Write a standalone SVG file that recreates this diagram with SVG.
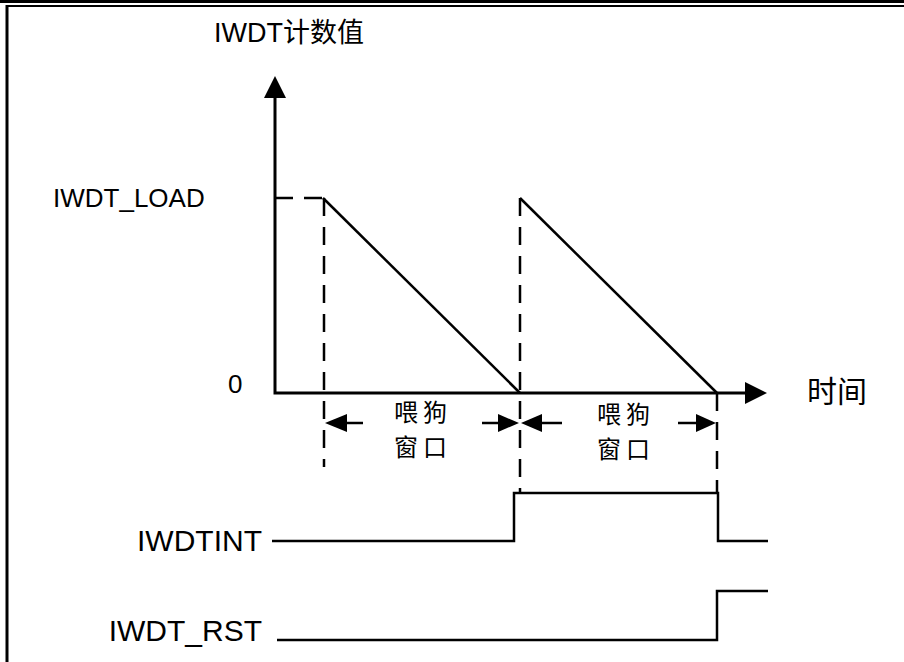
<svg xmlns="http://www.w3.org/2000/svg" width="904" height="662" viewBox="0 0 904 662">
<defs>
<style>
.ln{stroke:#000;stroke-width:2.5;fill:none}
.ax{stroke:#000;stroke-width:3;fill:none}
.ds{stroke:#000;stroke-width:2.5;fill:none;stroke-dasharray:18 11}
.t{font-family:"Liberation Sans","Noto Sans CJK SC",sans-serif;font-size:26px;fill:#000}
.b{font-family:"Liberation Sans","Noto Sans CJK SC",sans-serif;font-size:30px;fill:#000}
.c{font-family:"Liberation Sans","Noto Sans CJK SC",sans-serif;font-size:24px;fill:#000}
.ah{fill:#000}
</style>
</defs>
<rect width="904" height="662" fill="#fff"/>
<g id="frame">
<line x1="0" y1="1.5" x2="904" y2="1.5" stroke="#000" stroke-width="3"/>
<line x1="6" y1="6" x2="904" y2="6" stroke="#000" stroke-width="2"/>
<line x1="7" y1="5" x2="7" y2="662" stroke="#000" stroke-width="3"/>
</g>
<g id="labels">
<text class="t" x="214" y="42" font-size="27" style="font-size:27px">IWDT计数值</text>
<text class="t" x="53" y="207">IWDT_LOAD</text>
<text class="t" x="228" y="393">0</text>
<text class="b" x="807" y="402">时间</text>
<text class="b" x="262" y="551" text-anchor="end">IWDTINT</text>
<text class="b" x="262" y="641" text-anchor="end">IWDT_RST</text>
</g>
<g id="window1">
<text class="c" x="423" y="421" text-anchor="middle" letter-spacing="5">喂狗</text>
<text class="c" x="423" y="456" text-anchor="middle" letter-spacing="5">窗口</text>
</g>
<g id="window2">
<text class="c" x="626" y="423" text-anchor="middle" letter-spacing="5">喂狗</text>
<text class="c" x="626" y="458" text-anchor="middle" letter-spacing="5">窗口</text>
</g>
<g id="connectors">
<polyline class="ax" points="275,97 275,393 745,393"/>
<polygon class="ah" points="275,76 264,98 286,98"/>
<polygon class="ah" points="767,393 745,382 745,404"/>
<line class="ds" x1="275" y1="198" x2="323" y2="198" stroke-dasharray="18 12"/>
<polyline class="ln" points="323,198 520,393"/>
<polyline class="ln" points="520,198 717,393"/>
<line class="ds" x1="324" y1="198" x2="324" y2="467"/>
<line class="ds" x1="520" y1="198" x2="520" y2="492"/>
<line class="ds" x1="717" y1="393" x2="717" y2="492"/>
<line class="ln" x1="345" y1="423" x2="363" y2="423"/>
<polygon class="ah" points="325,423 347,414 347,432"/>
<line class="ln" x1="482" y1="423" x2="500" y2="423"/>
<polygon class="ah" points="519,423 498,414 498,432"/>
<line class="ln" x1="540" y1="423" x2="562" y2="423"/>
<polygon class="ah" points="521,423 542,414 542,432"/>
<line class="ln" x1="678" y1="423" x2="698" y2="423"/>
<polygon class="ah" points="716,423 696,414 696,432"/>
<polyline class="ln" points="272,541 514,541 514,493 718,493 718,541 768,541"/>
<polyline class="ln" points="277,640 717,640 717,591 768,591"/>
</g>
</svg>
